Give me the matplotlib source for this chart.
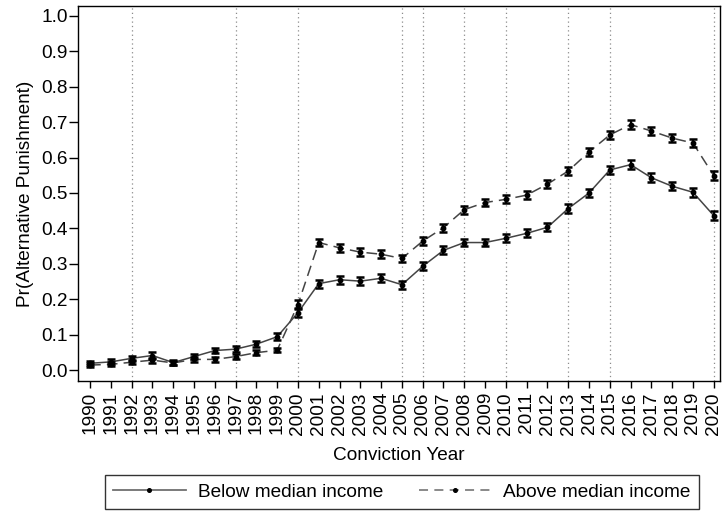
import matplotlib
matplotlib.use("Agg")
import matplotlib.pyplot as plt
from matplotlib.lines import Line2D

plt.rcParams['font.family'] = ['Liberation Sans', 'DejaVu Sans']

years = list(range(1990, 2021))

below_median = [0.019, 0.023, 0.033, 0.041, 0.021, 0.038, 0.055, 0.059, 0.073, 0.094,
                0.162, 0.244, 0.255, 0.251, 0.259, 0.241, 0.293, 0.338, 0.360, 0.360,
                0.372, 0.386, 0.403, 0.456, 0.500, 0.565, 0.580, 0.543, 0.519, 0.502,
                0.436]
below_err = [0.006, 0.007, 0.008, 0.009, 0.006, 0.008, 0.008, 0.008, 0.009, 0.010,
             0.012, 0.011, 0.011, 0.011, 0.011, 0.011, 0.011, 0.011, 0.011, 0.011,
             0.011, 0.011, 0.011, 0.012, 0.012, 0.012, 0.012, 0.012, 0.012, 0.012,
             0.013]

above_median = [0.014, 0.016, 0.022, 0.028, 0.020, 0.030, 0.030, 0.038, 0.049, 0.056,
                0.185, 0.360, 0.345, 0.333, 0.327, 0.315, 0.364, 0.402, 0.453, 0.473,
                0.482, 0.494, 0.525, 0.562, 0.616, 0.664, 0.693, 0.675, 0.655, 0.641,
                0.549]
above_err = [0.005, 0.006, 0.006, 0.007, 0.006, 0.006, 0.006, 0.007, 0.007, 0.006,
             0.013, 0.011, 0.011, 0.011, 0.011, 0.011, 0.011, 0.011, 0.011, 0.011,
             0.011, 0.011, 0.011, 0.012, 0.012, 0.012, 0.012, 0.012, 0.012, 0.012,
             0.013]

marked_years = [1992, 1997, 2000, 2005, 2006, 2008, 2010, 2013, 2015, 2020]

y_ticks = [0.0, 0.1, 0.2, 0.3, 0.4, 0.5, 0.6, 0.7, 0.8, 0.9, 1.0]

FS = 13.7

fig = plt.figure(figsize=(7.22, 5.12), dpi=100)
ax = fig.add_axes([78 / 722, 1 - 381 / 512, (720 - 78) / 722, (381 - 6) / 512])

for yr in marked_years:
    ax.axvline(yr, color='#8c8c8c', linestyle=(0, (1, 2.5)), linewidth=0.9, zorder=1)

line_col = '#444444'
ax.plot(years, below_median, color=line_col, linewidth=1.1, linestyle='-', zorder=3)
ax.plot(years, above_median, color=line_col, linewidth=1.1, linestyle=(0, (7, 4)), zorder=3)

for vals, errs in ((below_median, below_err), (above_median, above_err)):
    ax.errorbar(years, vals, yerr=errs, fmt='o', color='black', markersize=3.2,
                ecolor='black', elinewidth=1.6, capsize=3.0, capthick=1.8, zorder=4)

ax.set_xlim(1989.42, 2020.3)
ax.set_ylim(-0.031, 1.028)
ax.set_xticks(years)
ax.set_xticklabels([str(y) for y in years], rotation=90, fontsize=FS)
ax.set_yticks(y_ticks)
ax.set_yticklabels([f"{v:.1f}" for v in y_ticks], fontsize=FS)
ax.tick_params(axis='x', direction='out', length=5, width=1, pad=3, colors='black')
ax.tick_params(axis='y', direction='out', length=6.5, width=1, pad=1, colors='black')

for s in ax.spines.values():
    s.set_linewidth(1.0)
    s.set_color('black')

ax.set_xlabel('Conviction Year', fontsize=FS, labelpad=9)
ax.set_ylabel('Pr(Alternative Punishment)', fontsize=FS, labelpad=5)

handles = [
    Line2D([0], [0], color='#707070', linewidth=1.3, linestyle='-',
           marker='o', markersize=2.6, markerfacecolor='black', markeredgecolor='black'),
    Line2D([0], [0], color='#808080', linewidth=1.3, linestyle=(0, (5, 3.5)),
           marker='o', markersize=2.6, markerfacecolor='black', markeredgecolor='black'),
]
leg = fig.legend(handles, ['Below median income', 'Above median income'],
                 loc='center', bbox_to_anchor=(402 / 722, 1 - 492 / 512), ncol=2,
                 fontsize=FS, frameon=True, fancybox=False, edgecolor='black',
                 handlelength=3.8, columnspacing=1.9, borderpad=0.45, handletextpad=0.63)
leg.get_frame().set_linewidth(1.0)

fig.savefig('out.png', dpi=100, facecolor='white')
